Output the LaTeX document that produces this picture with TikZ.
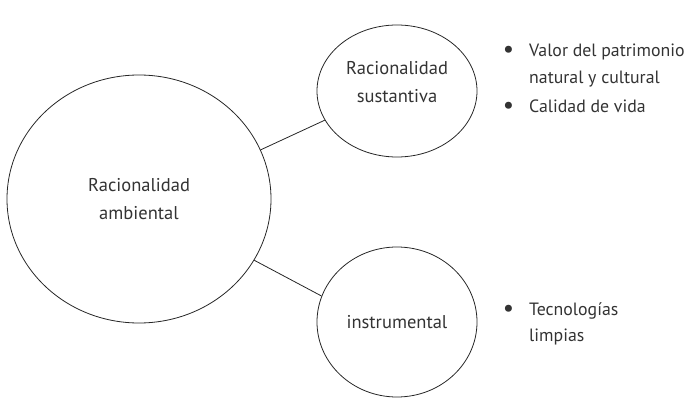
\documentclass[tikz,border=0pt]{standalone}
\usepackage{fontspec}
\setmainfont{PT Sans}
\usetikzlibrary{shapes.geometric,positioning}
\definecolor{txtgray}{HTML}{333333}
\tikzset{
  circ/.style={draw=black!85, line width=0.8pt, ellipse, inner sep=0pt},
  txt/.style={text=txtgray, align=center, inner sep=0pt,
    font=\fontsize{18.5}{28}\selectfont},
  lst/.style={text=txtgray, inner sep=0pt, anchor=base west,
    font=\fontsize{17.8}{26.5}\selectfont},
  conn/.style={draw=black!85, line width=0.8pt}
}
\newcommand{\bul}{\llap{\raisebox{-1pt}{\fontsize{25}{25}\selectfont\textbullet}\hspace{15pt}}}

\begin{document}
\begin{tikzpicture}[x=1pt,y=-1pt]
		\useasboundingbox (0,0) rectangle (688,398);
		% Define nodes
		\node[circ, minimum width=264pt, minimum height=248pt] (amb) at (139,199) {};
		\node[circ, minimum width=160pt, minimum height=132pt] (sus) at (397,91) {};
		\node[circ, minimum width=160pt, minimum height=150pt] (ins) at (397,322) {};
		\node[txt] (tamb) at (amb) {Racionalidad\\ambiental};
		\node[txt, yshift=9pt] (tsus) at (sus) {Racionalidad\\sustantiva};
		\node[txt] (tins) at (ins) {instrumental};
		
		\node[lst] (lsus) at (529,57) {\begin{tabular}[t]{@{}l@{}}\bul Valor del patrimonio\\natural y cultural\\[3pt]\bul Calidad de vida\end{tabular}};
		\node[lst] (lins) at (529,315) {\begin{tabular}[t]{@{}l@{}}\bul Tecnologías\\limpias\end{tabular}};
		
		% Connect the nodes
		\draw[conn] (amb.22.5) -- (sus.-158);
		\draw[conn] (amb.-28) -- (ins.161.6);
	\end{tikzpicture}
\end{document}
